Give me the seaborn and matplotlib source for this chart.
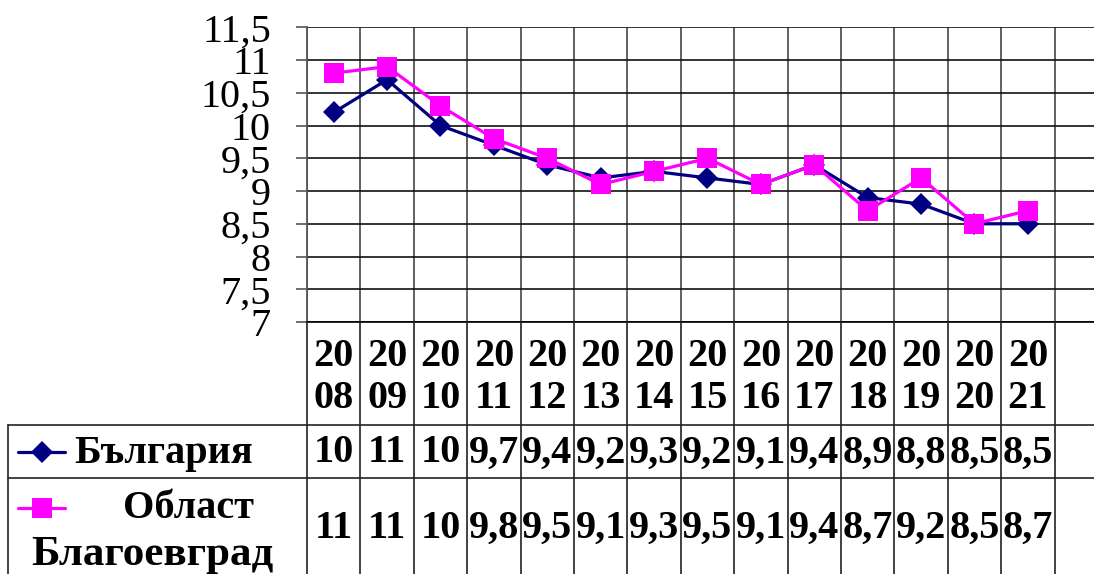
import numpy as np
import pandas as pd
import matplotlib
matplotlib.use('Agg')
import matplotlib.pyplot as plt
import seaborn as sns
from matplotlib.lines import Line2D
from matplotlib.transforms import blended_transform_factory

# ---- data ----
years = ['2008', '2009', '2010', '2011', '2012', '2013', '2014',
         '2015', '2016', '2017', '2018', '2019', '2020', '2021']
bulgaria = [10.2, 10.7, 10.0, 9.7, 9.4, 9.2, 9.3, 9.2, 9.1, 9.4, 8.9, 8.8, 8.5, 8.5]
blagoevgrad = [10.8, 10.9, 10.3, 9.8, 9.5, 9.1, 9.3, 9.5, 9.1, 9.4, 8.7, 9.2, 8.5, 8.7]
series_names = ['България', 'Област\nБлагоевград']
y_ticks = [7, 7.5, 8, 8.5, 9, 9.5, 10, 10.5, 11, 11.5]

NAVY = '#000080'
MAGENTA = '#FF00FF'

sns.set_theme(style='white')
plt.rcParams['font.family'] = ['Liberation Serif', 'DejaVu Serif']
plt.rcParams['text.color'] = 'black'
plt.rcParams['ytick.color'] = 'black'
plt.rcParams['ytick.labelcolor'] = 'black'

W, H = 1094, 574
fig = plt.figure(figsize=(W / 100, H / 100), dpi=100)

def fx(px):
    return px / W

def fy(py):
    return 1 - py / H

ax_left, ax_right, ax_top, ax_bottom = 307, 1108, 27.3, 322
ax = fig.add_axes([fx(ax_left), fy(ax_bottom), fx(ax_right - ax_left),
                   (ax_bottom - ax_top) / H])

n = len(years)
xs = np.arange(n)
df = pd.DataFrame({'x': np.concatenate([xs, xs]),
                   'value': bulgaria + blagoevgrad,
                   'series': [series_names[0]] * n + [series_names[1]] * n})

sns.lineplot(data=df[df.series == series_names[0]], x='x', y='value', ax=ax,
             color=NAVY, marker='D', markersize=11, markeredgewidth=0,
             linewidth=2.3, legend=False, zorder=3)
sns.lineplot(data=df[df.series == series_names[1]], x='x', y='value', ax=ax,
             color=MAGENTA, marker='s', markersize=14, markeredgewidth=0,
             linewidth=2.3, legend=False, zorder=4)

ax.set_xlim(-0.5, n + 0.5)
ax.set_ylim(y_ticks[0], y_ticks[-1])
ax.set_yticks(y_ticks)
ax.set_yticklabels([f'{v:g}'.replace('.', ',') for v in y_ticks], fontsize=29,
                   color='black')
ax.set_xticks(np.arange(-0.5, n + 1, 1))
ax.set_xticklabels([])
ax.set_xlabel('')
ax.set_ylabel('')
ax.tick_params(axis='x', length=0)
ax.tick_params(axis='y', length=8, width=1.2, color='#555555', pad=18,
               direction='out', left=True)
ax.grid(True, axis='x', color='#555555', linewidth=1.3)
ax.grid(True, axis='y', color='#111111', linewidth=1.2)
for s in ['top', 'right']:
    ax.spines[s].set_visible(False)
ax.spines['left'].set_color('#555555')
ax.spines['left'].set_linewidth(1.3)
ax.spines['bottom'].set_color('black')
ax.spines['bottom'].set_linewidth(1.2)

# ---- data table ----
tr = blended_transform_factory(ax.transData, fig.transFigure)
lc = '#222222'
lw = 1.2
# vertical column lines
for b in np.arange(-0.5, n + 1, 1):
    fig.add_artist(Line2D([b, b], [fy(ax_bottom), 0], transform=tr,
                          color=lc, linewidth=lw))
# horizontal row lines
for ry in [425, 478]:
    fig.add_artist(Line2D([fx(8), 1], [fy(ry), fy(ry)], transform=fig.transFigure,
                          color=lc, linewidth=lw))
fig.add_artist(Line2D([fx(8), fx(8)], [fy(425), 0], transform=fig.transFigure,
                      color=lc, linewidth=lw))

tfs = 29

def fmt(v):
    return f'{v:.0f}' if v >= 10 else f'{v:.1f}'.replace('.', ',')

for i, yr in enumerate(years):
    fig.text(i, fy(356), yr[:2], transform=tr, ha='center', va='center',
             fontsize=tfs, fontweight='bold')
    fig.text(i, fy(398), yr[2:], transform=tr, ha='center', va='center',
             fontsize=tfs, fontweight='bold')
    fig.text(i, fy(453), fmt(bulgaria[i]), transform=tr, ha='center',
             va='center', fontsize=tfs, fontweight='bold')
    fig.text(i, fy(528), fmt(blagoevgrad[i]), transform=tr, ha='center',
             va='center', fontsize=tfs, fontweight='bold')

# row headers with legend keys
fig.add_artist(Line2D([fx(18), fx(65)], [fy(452), fy(452)], transform=fig.transFigure,
                      color=NAVY, linewidth=2.3))
fig.add_artist(Line2D([fx(41.5)], [fy(452)], transform=fig.transFigure,
                      color=NAVY, marker='D', markersize=11, markeredgewidth=0))
fig.add_artist(Line2D([fx(18), fx(65)], [fy(508), fy(508)], transform=fig.transFigure,
                      color=MAGENTA, linewidth=2.3))
fig.add_artist(Line2D([fx(41.5)], [fy(508)], transform=fig.transFigure,
                      color=MAGENTA, marker='s', markersize=14, markeredgewidth=0))

fig.text(fx(74), fy(453), series_names[0], ha='left', va='center',
         fontsize=tfs, fontweight='bold')
line1, line2 = series_names[1].split('\n')
fig.text(fx(188), fy(508), line1, ha='center', va='center',
         fontsize=tfs, fontweight='bold')
fig.text(fx(152), fy(555), line2, ha='center', va='center',
         fontsize=31, fontweight='bold', fontstretch='expanded')

fig.savefig('out.png', dpi=100)
